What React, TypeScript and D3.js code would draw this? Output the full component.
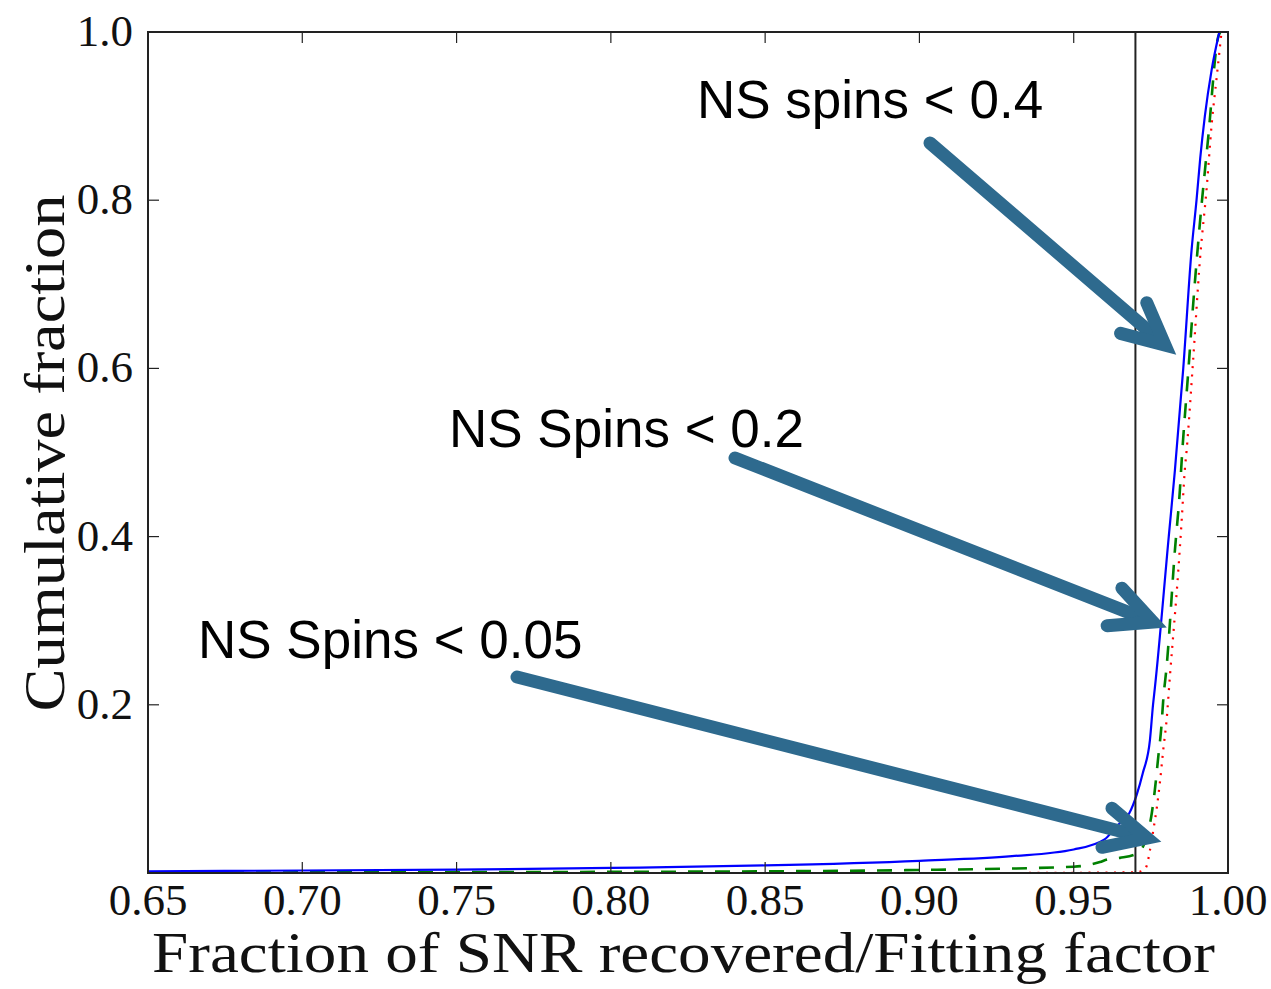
import React from "react";
import * as d3 from "d3";

// Cumulative distributions of the fitting factor for three NS spin ranges
const spin04X = [0.65, 0.70, 0.75, 0.80, 0.85, 0.90, 0.93, 0.95, 0.96, 0.964, 0.968, 0.9704, 0.9724, 0.9747, 0.9757, 0.9763, 0.9808, 0.9828, 0.9855, 0.9882, 0.9898, 0.991, 0.9925, 0.9947, 0.9972];
const spin04Y = [0.002, 0.003, 0.004, 0.006, 0.009, 0.0145, 0.02, 0.028, 0.04, 0.056, 0.071, 0.093, 0.119, 0.158, 0.2, 0.22, 0.4, 0.479, 0.6, 0.741, 0.8, 0.85, 0.9, 0.955, 1.0];

const spin02X = [0.65, 0.75, 0.85, 0.90, 0.95, 0.9585, 0.9608, 0.965, 0.9704, 0.9731, 0.9753, 0.9763, 0.9774, 0.9785, 0.979, 0.9801, 0.9828, 0.9844, 0.985, 0.9871, 0.989, 0.9909, 0.9936, 0.9968, 0.9975];
const spin02Y = [0.0005, 0.001, 0.002, 0.0036, 0.0075, 0.013, 0.016, 0.018, 0.023, 0.037, 0.071, 0.099, 0.138, 0.178, 0.205, 0.245, 0.384, 0.455, 0.491, 0.595, 0.69, 0.773, 0.875, 0.994, 1.0];

const spin005X = [0.93, 0.96, 0.9705, 0.9725, 0.9736, 0.9747, 0.9758, 0.9769, 0.978, 0.979, 0.9801, 0.9812, 0.9839, 0.985, 0.986, 0.9866, 0.9887, 0.9909, 0.9931, 0.9947, 0.9963, 0.9979];
const spin005Y = [0, 0.0005, 0.001, 0.003, 0.008, 0.027, 0.051, 0.077, 0.11, 0.146, 0.182, 0.235, 0.36, 0.42, 0.479, 0.503, 0.61, 0.729, 0.815, 0.89, 0.945, 1.0];

const threshold = 0.97;

const xTicks = [0.65, 0.70, 0.75, 0.80, 0.85, 0.90, 0.95, 1.00];
const yTicks = [0.2, 0.4, 0.6, 0.8, 1.0];

const annotations = [
  { label: "NS spins < 0.4", tx: 697, ty: 118, from: [930, 143], to: [1165, 345] },
  { label: "NS Spins < 0.2", tx: 449, ty: 447, from: [735, 458], to: [1153, 622] },
  { label: "NS Spins < 0.05", tx: 198, ty: 658, from: [517, 677], to: [1147, 838] },
];

const W = 1271;
const H = 989;
const M = { left: 148, right: 1228, top: 32, bottom: 873 };

export default function App() {
  const x = d3.scaleLinear().domain([0.65, 1.0]).range([M.left, M.right]);
  const y = d3.scaleLinear().domain([0, 1]).range([M.bottom, M.top]);

  const line = d3
    .line<[number, number]>()
    .x((d) => x(d[0]))
    .y((d) => y(d[1]))
    .curve(d3.curveMonotoneX);

  const zip = (a: number[], b: number[]) => a.map((v, i) => [v, b[i]] as [number, number]);

  const serif = "'Liberation Serif', 'Times New Roman', serif";
  const sans = "'Liberation Sans', Arial, Helvetica, sans-serif";
  const arrowColor = "#2e6a8e";
  const tickLen = 11;

  const arrowHead = (from: number[], to: number[]) => {
    const ang = Math.atan2(to[1] - from[1], to[0] - from[0]);
    const back = ang + Math.PI;
    const spread = (26 * Math.PI) / 180;
    const len = 46;
    const p1 = [to[0] + len * Math.cos(back + spread), to[1] + len * Math.sin(back + spread)];
    const p2 = [to[0] + len * Math.cos(back - spread), to[1] + len * Math.sin(back - spread)];
    return `M${p1[0]},${p1[1]}L${to[0]},${to[1]}L${p2[0]},${p2[1]}`;
  };

  const shaftEnd = (from: number[], to: number[]) => {
    const ang = Math.atan2(to[1] - from[1], to[0] - from[0]);
    return [to[0] - 10 * Math.cos(ang), to[1] - 10 * Math.sin(ang)];
  };

  return (
    <div style={{ position: "absolute", left: 0, top: 0 }}>
      <svg width={W} height={H} viewBox={`0 0 ${W} ${H}`} style={{ display: "block", background: "#fff" }}>
        <defs>
          <clipPath id="plotClip">
            <rect x={M.left} y={M.top - 2} width={M.right - M.left} height={M.bottom - M.top + 2} />
          </clipPath>
        </defs>

        {/* series */}
        <g clipPath="url(#plotClip)">
          <path d={line(zip(spin005X, spin005Y)) || ""} fill="none" stroke="#ff0000" strokeWidth={2.2} strokeDasharray="2,6.5" />
          <path d={line(zip(spin02X, spin02Y)) || ""} fill="none" stroke="#008000" strokeWidth={2.6} strokeDasharray="15,12" />
          <path d={line(zip(spin04X, spin04Y)) || ""} fill="none" stroke="#0000ff" strokeWidth={2.2} />
        </g>

        {/* threshold line */}
        <line x1={x(threshold)} x2={x(threshold)} y1={M.top} y2={M.bottom} stroke="#222" strokeWidth={2} />

        {/* ticks */}
        {xTicks.map((t) => (
          <g key={"xt" + t}>
            <line x1={x(t)} x2={x(t)} y1={M.bottom} y2={M.bottom - tickLen} stroke="#222" strokeWidth={1.2} />
            <line x1={x(t)} x2={x(t)} y1={M.top} y2={M.top + tickLen} stroke="#222" strokeWidth={1.2} />
            <text x={x(t)} y={915} textAnchor="middle" fontFamily={serif} fontSize={45} fill="#111">
              {t.toFixed(2)}
            </text>
          </g>
        ))}
        {yTicks.map((t) => (
          <g key={"yt" + t}>
            <line x1={M.left} x2={M.left + tickLen} y1={y(t)} y2={y(t)} stroke="#222" strokeWidth={1.2} />
            <line x1={M.right} x2={M.right - tickLen} y1={y(t)} y2={y(t)} stroke="#222" strokeWidth={1.2} />
            <text x={133} y={y(t) + 14} textAnchor="end" fontFamily={serif} fontSize={45} fill="#111">
              {t.toFixed(1)}
            </text>
          </g>
        ))}

        {/* frame */}
        <rect x={M.left} y={M.top} width={M.right - M.left} height={M.bottom - M.top} fill="none" stroke="#222" strokeWidth={2} />

        {/* axis titles */}
        <text x={(152 + 1215) / 2} y={972} textAnchor="middle" fontFamily={serif} fontSize={56} fill="#111" textLength={1063} lengthAdjust="spacingAndGlyphs">
          Fraction of SNR recovered/Fitting factor
        </text>
        <text transform={`translate(64,453) rotate(-90)`} textAnchor="middle" fontFamily={serif} fontSize={56} fill="#111" textLength={517} lengthAdjust="spacingAndGlyphs">
          Cumulative fraction
        </text>

        {/* annotations */}
        {annotations.map((a) => {
          const e = shaftEnd(a.from, a.to);
          return (
            <g key={a.label}>
              <text x={a.tx} y={a.ty} fontFamily={sans} fontSize={53} fill="#000">
                {a.label}
              </text>
              <line x1={a.from[0]} y1={a.from[1]} x2={e[0]} y2={e[1]} stroke={arrowColor} strokeWidth={13} strokeLinecap="round" />
              <path d={arrowHead(a.from, a.to)} fill="none" stroke={arrowColor} strokeWidth={13} strokeLinecap="round" strokeLinejoin="miter" strokeMiterlimit={10} />
            </g>
          );
        })}
      </svg>
    </div>
  );
}
